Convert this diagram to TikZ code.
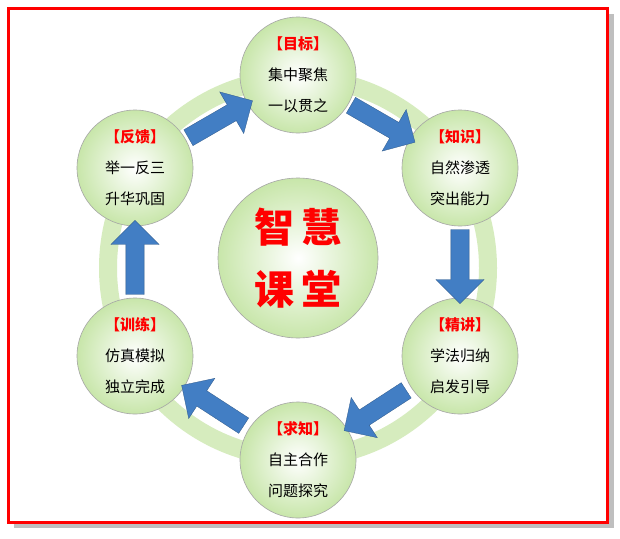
\documentclass[tikz,border=0pt]{standalone}
\usepackage{fontspec}
\newfontfamily\cjk{Noto Sans CJK SC}
\usetikzlibrary{shapes.arrows,calc}
\definecolor{ringgreen}{RGB}{214,236,190}
\definecolor{ballgreen}{RGB}{200,230,170}
\definecolor{arrowblue}{RGB}{66,126,196}
\tikzset{
  ball/.style={circle, minimum size=116pt, draw=gray!70, line width=0.6pt,
    inner color=white, outer color=ballgreen, align=center, font=\cjk\fontsize{15}{31}\selectfont},
  flow/.style={single arrow, fill=arrowblue, draw=arrowblue!70!black, line width=0.3pt,
    minimum height=74pt, minimum width=48pt, single arrow head extend=10pt, inner sep=6pt}
}
\newcommand{\boxtext}[3]{{\color{red}\bfseries【#1】}\\#2\\#3}
\begin{document}
\begin{tikzpicture}[x=1pt,y=-1pt]
  \useasboundingbox (0,0) rectangle (620,538);
  \fill[gray!50] (14,14) rectangle (614,528);
  \fill[white,draw=red,line width=3pt] (8,8) rectangle (607,522);
  % background ring
  \draw[ringgreen, line width=18pt] (298,268) circle (190);
  \node[ball, minimum size=160pt, font=\cjk\bfseries\fontsize{40}{62}\selectfont, text=red] (core) at (298,258) {智\,慧\\课\,堂};
  \node[ball] (goal)  at (298,75)  {\boxtext{目标}{集中聚焦}{一以贯之}};
  \node[ball] (know)  at (460,168) {\boxtext{知识}{自然渗透}{突出能力}};
  \node[ball] (talk)  at (460,356) {\boxtext{精讲}{学法归纳}{启发引导}};
  \node[ball] (seek)  at (298,460) {\boxtext{求知}{自主合作}{问题探究}};
  \node[ball] (train) at (135,356) {\boxtext{训练}{仿真模拟}{独立完成}};
  \node[ball] (back)  at (135,168) {\boxtext{反馈}{举一反三}{升华巩固}};

  \node[flow, rotate=-30] (f1) at ($(goal)!0.5!(know)$) {};
  \node[flow, rotate=-90] (f2) at ($(know)!0.5!(talk)$) {};
  \node[flow, rotate=-147] (f3) at ($(talk)!0.5!(seek)$) {};
  \node[flow, rotate=147] (f4) at ($(seek)!0.5!(train)$) {};
  \node[flow, rotate=90] (f5) at ($(train)!0.5!(back)$) {};
  \node[flow, rotate=30] (f6) at ($(back)!0.5!(goal)$) {};
\end{tikzpicture}
\end{document}
